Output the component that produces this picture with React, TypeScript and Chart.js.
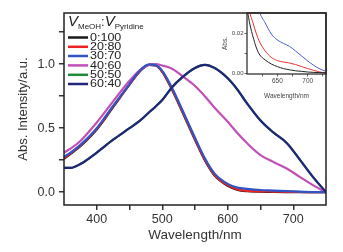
import React, { useEffect, useRef } from "react";
import { Chart, registerables } from "chart.js";
Chart.register(...registerables);

// ---------- main chart data ----------
const wavelengths = [350, 360, 375, 400, 425, 450, 465, 480, 490, 500, 515, 530, 550, 565, 580, 600, 615, 630, 650, 670, 690, 710, 730, 750];
const abs0_100 = [0.26, 0.30, 0.36, 0.49, 0.665, 0.84, 0.94, 0.995, 0.99, 0.94, 0.80, 0.635, 0.41, 0.25, 0.13, 0.05, 0.018, 0.008, 0.004, 0.002, 0.001, 0.0005, 0.0002, 0.0];
const abs20_80 = [0.265, 0.305, 0.365, 0.495, 0.67, 0.842, 0.942, 0.995, 0.99, 0.942, 0.805, 0.64, 0.415, 0.255, 0.135, 0.055, 0.022, 0.011, 0.006, 0.005, 0.003, 0.0015, 0.0, 0.0];
const abs30_70 = [0.275, 0.31, 0.37, 0.50, 0.675, 0.845, 0.945, 0.998, 0.992, 0.948, 0.815, 0.65, 0.425, 0.265, 0.145, 0.065, 0.036, 0.026, 0.017, 0.013, 0.008, 0.004, 0.001, 0.0];
const abs40_60 = [0.31, 0.34, 0.40, 0.545, 0.71, 0.87, 0.95, 0.995, 1.0, 0.99, 0.965, 0.91, 0.83, 0.75, 0.66, 0.55, 0.46, 0.38, 0.29, 0.235, 0.185, 0.12, 0.055, 0.0];
const abs50_50 = [0.19, 0.19, 0.22, 0.31, 0.41, 0.50, 0.555, 0.625, 0.67, 0.72, 0.82, 0.895, 0.97, 0.995, 0.97, 0.89, 0.80, 0.69, 0.56, 0.465, 0.385, 0.255, 0.12, 0.0];
const abs60_40 = [0.19, 0.19, 0.22, 0.31, 0.41, 0.50, 0.555, 0.625, 0.67, 0.72, 0.82, 0.895, 0.97, 0.995, 0.97, 0.89, 0.80, 0.69, 0.56, 0.465, 0.385, 0.255, 0.12, 0.0];

const seriesLabels = ["0:100", "20:80", "30:70", "40:60", "50:50", "60:40"];
const seriesValues = [abs0_100, abs20_80, abs30_70, abs40_60, abs50_50, abs60_40];
const seriesColors = ["#1a1a1a", "#ee2222", "#2f55c4", "#c050b8", "#1f8a3c", "#22267a"];
const seriesOrder = [5, 4, 1, 2, 3, 0];

const xTicks = [400, 450, 500, 550, 600, 650, 700];
const yTicks = [0, 0.25, 0.5, 0.75, 1.0, 1.25];

// ---------- inset data ----------
const insetWavelengths = [600, 605, 610, 615, 620, 630, 640, 650, 660, 670, 680, 690, 700, 710, 720, 730];
const inset0_100 = [0.032, 0.024, 0.018, 0.013, 0.0095, 0.0065, 0.0045, 0.0032, 0.0022, 0.0016, 0.0011, 0.0008, 0.0005, 0.0003, 0.0002, 0.0001];
const inset20_80 = [0.04, 0.03, 0.025, 0.02, 0.016, 0.011, 0.0078, 0.0062, 0.0055, 0.005, 0.0042, 0.0032, 0.0022, 0.0013, 0.0005, 0.0];
const inset30_70 = [0.06, 0.05, 0.045, 0.038, 0.031, 0.025, 0.0195, 0.0165, 0.0148, 0.0133, 0.011, 0.0085, 0.006, 0.0038, 0.002, 0.0008];
const insetValues = [inset0_100, inset20_80, inset30_70];
const insetColors = ["#222222", "#ee3333", "#4a5fd0"];
const insetXTicks = [625, 650, 675, 700, 725];
const insetYTicks = [0, 0.01, 0.02];

const FONT = "'Liberation Sans', Arial, sans-serif";

const framePlugin = {
  id: "frame",
  afterDatasetsDraw(chart: any) {
    const { ctx, chartArea } = chart;
    const { left, top, right, bottom } = chartArea;
    ctx.save();
    ctx.strokeStyle = "#222";
    ctx.lineWidth = chart.options.plugins.frame?.width ?? 1.5;
    ctx.strokeRect(left, top, right - left, bottom - top);
    ctx.restore();
  },
};

const legendPlugin = {
  id: "customLegend",
  afterDraw(chart: any) {
    const { ctx, chartArea } = chart;
    const x0 = chartArea.left + 4;
    ctx.save();
    ctx.fillStyle = "#222";
    ctx.textBaseline = "alphabetic";
    // title V_MeOH:V_Pyridine
    let x = x0;
    const base = 25.5;
    ctx.font = `italic 15px ${FONT}`;
    ctx.fillText("V", x, base);
    x += ctx.measureText("V").width;
    ctx.font = `8px ${FONT}`;
    ctx.fillText("MeOH", x, base + 3);
    x += ctx.measureText("MeOH").width;
    ctx.font = `13px ${FONT}`;
    ctx.fillText(":", x, base);
    x += ctx.measureText(":").width;
    ctx.font = `italic 15px ${FONT}`;
    ctx.fillText("V", x, base);
    x += ctx.measureText("V").width;
    ctx.font = `8px ${FONT}`;
    ctx.fillText("Pyridine", x, base + 3);

    ctx.textBaseline = "middle";
    const ys = [37.5, 46.8, 56, 65.4, 74.8, 84];
    seriesLabels.forEach((lab, i) => {
      ctx.strokeStyle = seriesColors[i];
      ctx.lineWidth = 2.5;
      ctx.beginPath();
      ctx.moveTo(x0, ys[i]);
      ctx.lineTo(x0 + 20, ys[i]);
      ctx.stroke();
      ctx.save();
      ctx.translate(x0 + 22, ys[i] + 0.5);
      ctx.scale(1.25, 1);
      ctx.font = `10px ${FONT}`;
      ctx.fillStyle = "#222";
      ctx.fillText(lab, 0, 0);
      ctx.restore();
    });
    ctx.restore();
  },
};

export default function App() {
  const mainRef = useRef<HTMLCanvasElement>(null);
  const insetRef = useRef<HTMLCanvasElement>(null);

  useEffect(() => {
    const main = new Chart(mainRef.current!, {
      type: "line",
      data: {
        datasets: seriesLabels.map((lab, i) => ({
          label: lab,
          data: wavelengths.map((w, j) => ({ x: w, y: seriesValues[i][j] })),
          borderColor: seriesColors[i],
          backgroundColor: seriesColors[i],
          borderWidth: 2.2,
          pointRadius: 0,
          cubicInterpolationMode: "monotone" as const,
          order: seriesOrder[i],
        })),
      },
      options: {
        animation: false,
        responsive: false,
        maintainAspectRatio: false,
        layout: { padding: { top: 13, right: 17, left: 0, bottom: 9 } },
        plugins: {
          legend: { display: false },
          tooltip: { enabled: false },
          frame: { width: 1.5 },
        } as any,
        scales: {
          x: {
            type: "linear",
            min: 350,
            max: 750,
            afterBuildTicks: (s: any) => { s.ticks = xTicks.map((v) => ({ value: v })); },
            afterFit: (s: any) => { s.height = 38; },
            border: { display: false },
            grid: { drawOnChartArea: false, drawTicks: true, tickLength: 5, color: "#333", lineWidth: 1.5 },
            ticks: {
              autoSkip: false,
              maxRotation: 0,
              padding: 2,
              color: "#333",
              font: { family: FONT, size: 12.5 },
              callback: (v: any) => (v % 100 === 0 ? String(v) : ""),
            },
            title: { display: true, text: "Wavelength/nm", color: "#333", font: { family: FONT, size: 13.5 }, padding: { top: 1, bottom: 0 } },
          },
          y: {
            type: "linear",
            min: -0.1,
            max: 1.4,
            afterBuildTicks: (s: any) => { s.ticks = yTicks.map((v) => ({ value: v })); },
            afterFit: (s: any) => { s.width = 64; },
            border: { display: false },
            grid: { drawOnChartArea: false, drawTicks: true, tickLength: 5, color: "#333", lineWidth: 1.5 },
            ticks: {
              autoSkip: false,
              padding: 4,
              color: "#333",
              font: { family: FONT, size: 12.5 },
              callback: (v: any) => (Math.abs((v * 2) - Math.round(v * 2)) < 1e-6 ? Number(v).toFixed(1) : ""),
            },
            title: { display: true, text: "Abs. Intensity/a.u.", color: "#333", font: { family: FONT, size: 13 }, padding: { top: 16, bottom: 0 } },
          },
        },
      },
      plugins: [framePlugin, legendPlugin],
    });

    const inset = new Chart(insetRef.current!, {
      type: "line",
      data: {
        datasets: insetValues.map((vals, i) => ({
          label: seriesLabels[i],
          data: insetWavelengths.map((w, j) => ({ x: w, y: vals[j] })),
          borderColor: insetColors[i],
          borderWidth: 1,
          pointRadius: 0,
          cubicInterpolationMode: "monotone" as const,
        })),
      },
      options: {
        animation: false,
        responsive: false,
        maintainAspectRatio: false,
        layout: { padding: { top: 13, right: 14, left: 0, bottom: 0 } },
        plugins: {
          legend: { display: false },
          tooltip: { enabled: false },
          frame: { width: 1.2 },
        } as any,
        scales: {
          x: {
            type: "linear",
            min: 600,
            max: 730,
            afterBuildTicks: (s: any) => { s.ticks = insetXTicks.map((v) => ({ value: v })); },
            afterFit: (s: any) => { s.height = 26; },
            border: { display: false },
            grid: { drawOnChartArea: false, drawTicks: true, tickLength: 2.5, color: "#444", lineWidth: 0.8 },
            ticks: {
              autoSkip: false,
              maxRotation: 0,
              padding: 1,
              color: "#444",
              font: { family: FONT, size: 6.5 },
              callback: (v: any) => (v % 50 === 0 ? String(v) : ""),
            },
            title: { display: true, text: "Wavelength/nm", color: "#444", font: { family: FONT, size: 6.5 }, padding: { top: 0, bottom: 0 } },
          },
          y: {
            type: "linear",
            min: -0.0005,
            max: 0.03,
            afterBuildTicks: (s: any) => { s.ticks = insetYTicks.map((v) => ({ value: v })); },
            afterFit: (s: any) => { s.width = 32; },
            border: { display: false },
            grid: { drawOnChartArea: false, drawTicks: true, tickLength: 2.5, color: "#444", lineWidth: 0.8 },
            ticks: {
              autoSkip: false,
              padding: 1,
              color: "#444",
              font: { family: FONT, size: 6 },
              callback: (v: any) => (Math.abs(v * 50 - Math.round(v * 50)) < 1e-6 ? Number(v).toFixed(2) : ""),
            },
            title: { display: true, text: "Abs.", color: "#444", font: { family: FONT, size: 6.5 }, padding: { top: 6, bottom: 0 } },
          },
        },
      },
      plugins: [framePlugin],
    });

    return () => {
      main.destroy();
      inset.destroy();
    };
  }, []);

  return (
    <div style={{ position: "fixed", left: 0, top: 0, width: 343, height: 252, background: "#fff" }}>
      <canvas ref={mainRef} width={343} height={252} style={{ position: "absolute", left: 0, top: 0, width: 343, height: 252 }} />
      <canvas ref={insetRef} width={125} height={100} style={{ position: "absolute", left: 215, top: 0, width: 125, height: 100 }} />
    </div>
  );
}
